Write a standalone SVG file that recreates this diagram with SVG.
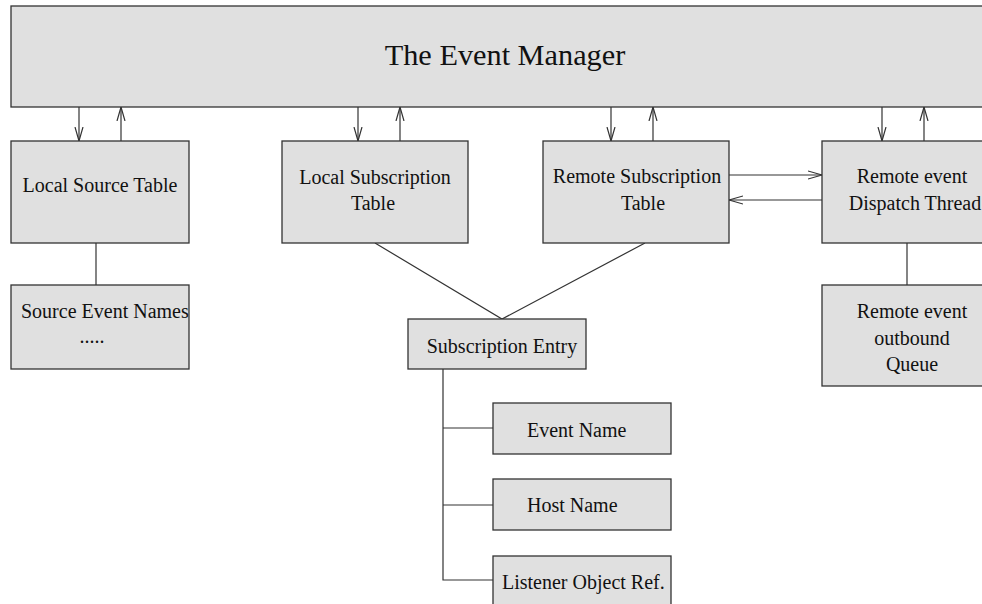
<svg xmlns="http://www.w3.org/2000/svg" width="982" height="604" viewBox="0 0 982 604">
  <style>
    .box { fill: #e0e0e0; stroke: #333333; stroke-width: 1.3; }
    .wire { fill: none; stroke: #333333; stroke-width: 1.2; }
    .lbl { font-family: "Liberation Serif", "Times New Roman", serif; font-size: 20px; fill: #111111; }
    .mid { text-anchor: middle; }
    .title { font-family: "Liberation Serif", "Times New Roman", serif; font-size: 30.3px; fill: #111111; text-anchor: middle; }
  </style>
  <defs>
    <marker id="head" markerUnits="userSpaceOnUse" markerWidth="16" markerHeight="10" refX="14" refY="5" orient="auto">
      <path d="M0,1 L14,5 L0,9" fill="none" stroke="#333333" stroke-width="1.2"/>
    </marker>
  </defs>

  <rect width="982" height="604" fill="#ffffff"/>

  <!-- connectors -->
  <g id="connectors">
    <!-- manager <-> tables -->
    <line class="wire" x1="79" y1="107" x2="79" y2="141" marker-end="url(#head)"/>
    <line class="wire" x1="121" y1="141" x2="121" y2="107" marker-end="url(#head)"/>
    <line class="wire" x1="358" y1="107" x2="358" y2="141" marker-end="url(#head)"/>
    <line class="wire" x1="400" y1="141" x2="400" y2="107" marker-end="url(#head)"/>
    <line class="wire" x1="611" y1="107" x2="611" y2="141" marker-end="url(#head)"/>
    <line class="wire" x1="653" y1="141" x2="653" y2="107" marker-end="url(#head)"/>
    <line class="wire" x1="882" y1="107" x2="882" y2="141" marker-end="url(#head)"/>
    <line class="wire" x1="924" y1="141" x2="924" y2="107" marker-end="url(#head)"/>
    <!-- remote table <-> dispatch thread -->
    <line class="wire" x1="729" y1="175" x2="822" y2="175" marker-end="url(#head)"/>
    <line class="wire" x1="822" y1="200" x2="729" y2="200" marker-end="url(#head)"/>
    <!-- plain links -->
    <line class="wire" x1="96" y1="243" x2="96" y2="285"/>
    <line class="wire" x1="907" y1="243" x2="907" y2="285"/>
    <polyline class="wire" points="375,243 502,319 645,243"/>
    <!-- subscription entry tree -->
    <polyline class="wire" points="443,369 443,580 493,580"/>
    <line class="wire" x1="443" y1="428" x2="493" y2="428"/>
    <line class="wire" x1="443" y1="505" x2="493" y2="505"/>
  </g>

  <g id="event-manager">
    <rect class="box" x="11" y="6" width="990" height="101"/>
    <text class="title" x="505" y="65">The Event Manager</text>
  </g>

  <g id="local-source-table">
    <rect class="box" x="11" y="141" width="178" height="102"/>
    <text class="lbl mid" x="100" y="192">Local Source Table</text>
  </g>

  <g id="source-event-names">
    <rect class="box" x="11" y="285" width="178" height="84"/>
    <text class="lbl" x="21" y="318">Source Event Names</text>
    <text class="lbl mid" x="92" y="343">.....</text>
  </g>

  <g id="local-subscription-table">
    <rect class="box" x="282" y="141" width="186" height="102"/>
    <text class="lbl mid" x="375" y="184">Local Subscription</text>
    <text class="lbl mid" x="373" y="210">Table</text>
  </g>

  <g id="remote-subscription-table">
    <rect class="box" x="543" y="141" width="186" height="102"/>
    <text class="lbl mid" x="637" y="183">Remote Subscription</text>
    <text class="lbl mid" x="643" y="210">Table</text>
  </g>

  <g id="dispatch-thread">
    <rect class="box" x="822" y="141" width="180" height="102"/>
    <text class="lbl mid" x="912" y="183">Remote event</text>
    <text class="lbl mid" x="915" y="210">Dispatch Thread</text>
  </g>

  <g id="outbound-queue">
    <rect class="box" x="822" y="285" width="180" height="101"/>
    <text class="lbl mid" x="912" y="318">Remote event</text>
    <text class="lbl mid" x="912" y="345">outbound</text>
    <text class="lbl mid" x="912" y="371">Queue</text>
  </g>

  <g id="subscription-entry">
    <rect class="box" x="408" y="319" width="178" height="50"/>
    <text class="lbl mid" x="502" y="353">Subscription Entry</text>
  </g>

  <g id="event-name">
    <rect class="box" x="493" y="403" width="178" height="51"/>
    <text class="lbl" x="527" y="437">Event Name</text>
  </g>

  <g id="host-name">
    <rect class="box" x="493" y="479" width="178" height="51"/>
    <text class="lbl" x="527" y="512">Host Name</text>
  </g>

  <g id="listener-ref">
    <rect class="box" x="493" y="556" width="178" height="60"/>
    <text class="lbl" x="502" y="589">Listener Object Ref.</text>
  </g>
</svg>
